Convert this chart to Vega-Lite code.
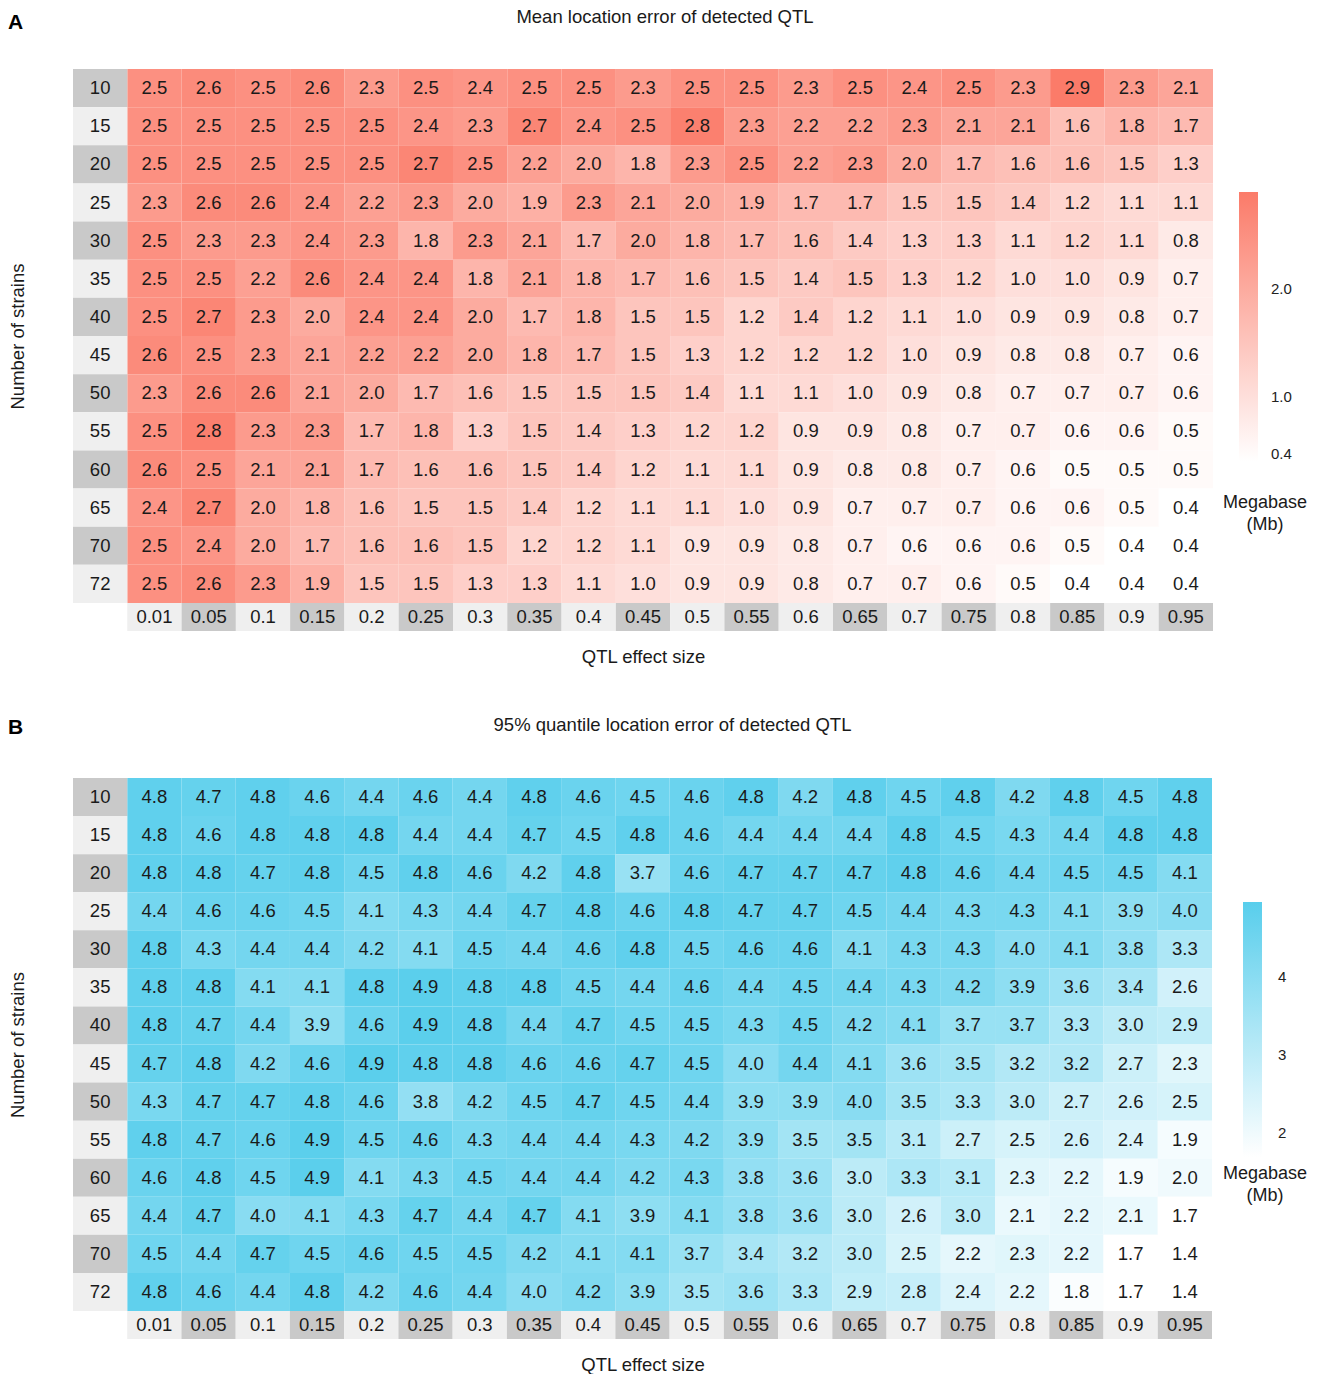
{
  "$schema": "https://vega.github.io/schema/vega-lite/v6.json",
  "padding": {"left": 8, "top": 7, "right": 2, "bottom": 0},
  "background": "white",
  "config": {
    "view": {"stroke": null},
    "font": "Liberation Sans",
    "axis": {"titleFont": "Liberation Sans", "titleFontWeight": "normal", "titleColor": "#1a1a1a", "titleFontSize": 18.5},
    "title": {"font": "Liberation Sans", "color": "#1a1a1a"},
    "legend": {"labelFont": "Liberation Sans", "titleFont": "Liberation Sans", "labelColor": "#222", "titleColor": "#1a1a1a"}
  },
  "datasets": {
    "a": [
      {"n":10,"e":"0.01","v":2.5},{"n":10,"e":"0.05","v":2.6},{"n":10,"e":"0.1","v":2.5},{"n":10,"e":"0.15","v":2.6},{"n":10,"e":"0.2","v":2.3},{"n":10,"e":"0.25","v":2.5},{"n":10,"e":"0.3","v":2.4},{"n":10,"e":"0.35","v":2.5},{"n":10,"e":"0.4","v":2.5},{"n":10,"e":"0.45","v":2.3},{"n":10,"e":"0.5","v":2.5},{"n":10,"e":"0.55","v":2.5},{"n":10,"e":"0.6","v":2.3},{"n":10,"e":"0.65","v":2.5},{"n":10,"e":"0.7","v":2.4},{"n":10,"e":"0.75","v":2.5},{"n":10,"e":"0.8","v":2.3},{"n":10,"e":"0.85","v":2.9},{"n":10,"e":"0.9","v":2.3},{"n":10,"e":"0.95","v":2.1},
      {"n":15,"e":"0.01","v":2.5},{"n":15,"e":"0.05","v":2.5},{"n":15,"e":"0.1","v":2.5},{"n":15,"e":"0.15","v":2.5},{"n":15,"e":"0.2","v":2.5},{"n":15,"e":"0.25","v":2.4},{"n":15,"e":"0.3","v":2.3},{"n":15,"e":"0.35","v":2.7},{"n":15,"e":"0.4","v":2.4},{"n":15,"e":"0.45","v":2.5},{"n":15,"e":"0.5","v":2.8},{"n":15,"e":"0.55","v":2.3},{"n":15,"e":"0.6","v":2.2},{"n":15,"e":"0.65","v":2.2},{"n":15,"e":"0.7","v":2.3},{"n":15,"e":"0.75","v":2.1},{"n":15,"e":"0.8","v":2.1},{"n":15,"e":"0.85","v":1.6},{"n":15,"e":"0.9","v":1.8},{"n":15,"e":"0.95","v":1.7},
      {"n":20,"e":"0.01","v":2.5},{"n":20,"e":"0.05","v":2.5},{"n":20,"e":"0.1","v":2.5},{"n":20,"e":"0.15","v":2.5},{"n":20,"e":"0.2","v":2.5},{"n":20,"e":"0.25","v":2.7},{"n":20,"e":"0.3","v":2.5},{"n":20,"e":"0.35","v":2.2},{"n":20,"e":"0.4","v":2.0},{"n":20,"e":"0.45","v":1.8},{"n":20,"e":"0.5","v":2.3},{"n":20,"e":"0.55","v":2.5},{"n":20,"e":"0.6","v":2.2},{"n":20,"e":"0.65","v":2.3},{"n":20,"e":"0.7","v":2.0},{"n":20,"e":"0.75","v":1.7},{"n":20,"e":"0.8","v":1.6},{"n":20,"e":"0.85","v":1.6},{"n":20,"e":"0.9","v":1.5},{"n":20,"e":"0.95","v":1.3},
      {"n":25,"e":"0.01","v":2.3},{"n":25,"e":"0.05","v":2.6},{"n":25,"e":"0.1","v":2.6},{"n":25,"e":"0.15","v":2.4},{"n":25,"e":"0.2","v":2.2},{"n":25,"e":"0.25","v":2.3},{"n":25,"e":"0.3","v":2.0},{"n":25,"e":"0.35","v":1.9},{"n":25,"e":"0.4","v":2.3},{"n":25,"e":"0.45","v":2.1},{"n":25,"e":"0.5","v":2.0},{"n":25,"e":"0.55","v":1.9},{"n":25,"e":"0.6","v":1.7},{"n":25,"e":"0.65","v":1.7},{"n":25,"e":"0.7","v":1.5},{"n":25,"e":"0.75","v":1.5},{"n":25,"e":"0.8","v":1.4},{"n":25,"e":"0.85","v":1.2},{"n":25,"e":"0.9","v":1.1},{"n":25,"e":"0.95","v":1.1},
      {"n":30,"e":"0.01","v":2.5},{"n":30,"e":"0.05","v":2.3},{"n":30,"e":"0.1","v":2.3},{"n":30,"e":"0.15","v":2.4},{"n":30,"e":"0.2","v":2.3},{"n":30,"e":"0.25","v":1.8},{"n":30,"e":"0.3","v":2.3},{"n":30,"e":"0.35","v":2.1},{"n":30,"e":"0.4","v":1.7},{"n":30,"e":"0.45","v":2.0},{"n":30,"e":"0.5","v":1.8},{"n":30,"e":"0.55","v":1.7},{"n":30,"e":"0.6","v":1.6},{"n":30,"e":"0.65","v":1.4},{"n":30,"e":"0.7","v":1.3},{"n":30,"e":"0.75","v":1.3},{"n":30,"e":"0.8","v":1.1},{"n":30,"e":"0.85","v":1.2},{"n":30,"e":"0.9","v":1.1},{"n":30,"e":"0.95","v":0.8},
      {"n":35,"e":"0.01","v":2.5},{"n":35,"e":"0.05","v":2.5},{"n":35,"e":"0.1","v":2.2},{"n":35,"e":"0.15","v":2.6},{"n":35,"e":"0.2","v":2.4},{"n":35,"e":"0.25","v":2.4},{"n":35,"e":"0.3","v":1.8},{"n":35,"e":"0.35","v":2.1},{"n":35,"e":"0.4","v":1.8},{"n":35,"e":"0.45","v":1.7},{"n":35,"e":"0.5","v":1.6},{"n":35,"e":"0.55","v":1.5},{"n":35,"e":"0.6","v":1.4},{"n":35,"e":"0.65","v":1.5},{"n":35,"e":"0.7","v":1.3},{"n":35,"e":"0.75","v":1.2},{"n":35,"e":"0.8","v":1.0},{"n":35,"e":"0.85","v":1.0},{"n":35,"e":"0.9","v":0.9},{"n":35,"e":"0.95","v":0.7},
      {"n":40,"e":"0.01","v":2.5},{"n":40,"e":"0.05","v":2.7},{"n":40,"e":"0.1","v":2.3},{"n":40,"e":"0.15","v":2.0},{"n":40,"e":"0.2","v":2.4},{"n":40,"e":"0.25","v":2.4},{"n":40,"e":"0.3","v":2.0},{"n":40,"e":"0.35","v":1.7},{"n":40,"e":"0.4","v":1.8},{"n":40,"e":"0.45","v":1.5},{"n":40,"e":"0.5","v":1.5},{"n":40,"e":"0.55","v":1.2},{"n":40,"e":"0.6","v":1.4},{"n":40,"e":"0.65","v":1.2},{"n":40,"e":"0.7","v":1.1},{"n":40,"e":"0.75","v":1.0},{"n":40,"e":"0.8","v":0.9},{"n":40,"e":"0.85","v":0.9},{"n":40,"e":"0.9","v":0.8},{"n":40,"e":"0.95","v":0.7},
      {"n":45,"e":"0.01","v":2.6},{"n":45,"e":"0.05","v":2.5},{"n":45,"e":"0.1","v":2.3},{"n":45,"e":"0.15","v":2.1},{"n":45,"e":"0.2","v":2.2},{"n":45,"e":"0.25","v":2.2},{"n":45,"e":"0.3","v":2.0},{"n":45,"e":"0.35","v":1.8},{"n":45,"e":"0.4","v":1.7},{"n":45,"e":"0.45","v":1.5},{"n":45,"e":"0.5","v":1.3},{"n":45,"e":"0.55","v":1.2},{"n":45,"e":"0.6","v":1.2},{"n":45,"e":"0.65","v":1.2},{"n":45,"e":"0.7","v":1.0},{"n":45,"e":"0.75","v":0.9},{"n":45,"e":"0.8","v":0.8},{"n":45,"e":"0.85","v":0.8},{"n":45,"e":"0.9","v":0.7},{"n":45,"e":"0.95","v":0.6},
      {"n":50,"e":"0.01","v":2.3},{"n":50,"e":"0.05","v":2.6},{"n":50,"e":"0.1","v":2.6},{"n":50,"e":"0.15","v":2.1},{"n":50,"e":"0.2","v":2.0},{"n":50,"e":"0.25","v":1.7},{"n":50,"e":"0.3","v":1.6},{"n":50,"e":"0.35","v":1.5},{"n":50,"e":"0.4","v":1.5},{"n":50,"e":"0.45","v":1.5},{"n":50,"e":"0.5","v":1.4},{"n":50,"e":"0.55","v":1.1},{"n":50,"e":"0.6","v":1.1},{"n":50,"e":"0.65","v":1.0},{"n":50,"e":"0.7","v":0.9},{"n":50,"e":"0.75","v":0.8},{"n":50,"e":"0.8","v":0.7},{"n":50,"e":"0.85","v":0.7},{"n":50,"e":"0.9","v":0.7},{"n":50,"e":"0.95","v":0.6},
      {"n":55,"e":"0.01","v":2.5},{"n":55,"e":"0.05","v":2.8},{"n":55,"e":"0.1","v":2.3},{"n":55,"e":"0.15","v":2.3},{"n":55,"e":"0.2","v":1.7},{"n":55,"e":"0.25","v":1.8},{"n":55,"e":"0.3","v":1.3},{"n":55,"e":"0.35","v":1.5},{"n":55,"e":"0.4","v":1.4},{"n":55,"e":"0.45","v":1.3},{"n":55,"e":"0.5","v":1.2},{"n":55,"e":"0.55","v":1.2},{"n":55,"e":"0.6","v":0.9},{"n":55,"e":"0.65","v":0.9},{"n":55,"e":"0.7","v":0.8},{"n":55,"e":"0.75","v":0.7},{"n":55,"e":"0.8","v":0.7},{"n":55,"e":"0.85","v":0.6},{"n":55,"e":"0.9","v":0.6},{"n":55,"e":"0.95","v":0.5},
      {"n":60,"e":"0.01","v":2.6},{"n":60,"e":"0.05","v":2.5},{"n":60,"e":"0.1","v":2.1},{"n":60,"e":"0.15","v":2.1},{"n":60,"e":"0.2","v":1.7},{"n":60,"e":"0.25","v":1.6},{"n":60,"e":"0.3","v":1.6},{"n":60,"e":"0.35","v":1.5},{"n":60,"e":"0.4","v":1.4},{"n":60,"e":"0.45","v":1.2},{"n":60,"e":"0.5","v":1.1},{"n":60,"e":"0.55","v":1.1},{"n":60,"e":"0.6","v":0.9},{"n":60,"e":"0.65","v":0.8},{"n":60,"e":"0.7","v":0.8},{"n":60,"e":"0.75","v":0.7},{"n":60,"e":"0.8","v":0.6},{"n":60,"e":"0.85","v":0.5},{"n":60,"e":"0.9","v":0.5},{"n":60,"e":"0.95","v":0.5},
      {"n":65,"e":"0.01","v":2.4},{"n":65,"e":"0.05","v":2.7},{"n":65,"e":"0.1","v":2.0},{"n":65,"e":"0.15","v":1.8},{"n":65,"e":"0.2","v":1.6},{"n":65,"e":"0.25","v":1.5},{"n":65,"e":"0.3","v":1.5},{"n":65,"e":"0.35","v":1.4},{"n":65,"e":"0.4","v":1.2},{"n":65,"e":"0.45","v":1.1},{"n":65,"e":"0.5","v":1.1},{"n":65,"e":"0.55","v":1.0},{"n":65,"e":"0.6","v":0.9},{"n":65,"e":"0.65","v":0.7},{"n":65,"e":"0.7","v":0.7},{"n":65,"e":"0.75","v":0.7},{"n":65,"e":"0.8","v":0.6},{"n":65,"e":"0.85","v":0.6},{"n":65,"e":"0.9","v":0.5},{"n":65,"e":"0.95","v":0.4},
      {"n":70,"e":"0.01","v":2.5},{"n":70,"e":"0.05","v":2.4},{"n":70,"e":"0.1","v":2.0},{"n":70,"e":"0.15","v":1.7},{"n":70,"e":"0.2","v":1.6},{"n":70,"e":"0.25","v":1.6},{"n":70,"e":"0.3","v":1.5},{"n":70,"e":"0.35","v":1.2},{"n":70,"e":"0.4","v":1.2},{"n":70,"e":"0.45","v":1.1},{"n":70,"e":"0.5","v":0.9},{"n":70,"e":"0.55","v":0.9},{"n":70,"e":"0.6","v":0.8},{"n":70,"e":"0.65","v":0.7},{"n":70,"e":"0.7","v":0.6},{"n":70,"e":"0.75","v":0.6},{"n":70,"e":"0.8","v":0.6},{"n":70,"e":"0.85","v":0.5},{"n":70,"e":"0.9","v":0.4},{"n":70,"e":"0.95","v":0.4},
      {"n":72,"e":"0.01","v":2.5},{"n":72,"e":"0.05","v":2.6},{"n":72,"e":"0.1","v":2.3},{"n":72,"e":"0.15","v":1.9},{"n":72,"e":"0.2","v":1.5},{"n":72,"e":"0.25","v":1.5},{"n":72,"e":"0.3","v":1.3},{"n":72,"e":"0.35","v":1.3},{"n":72,"e":"0.4","v":1.1},{"n":72,"e":"0.45","v":1.0},{"n":72,"e":"0.5","v":0.9},{"n":72,"e":"0.55","v":0.9},{"n":72,"e":"0.6","v":0.8},{"n":72,"e":"0.65","v":0.7},{"n":72,"e":"0.7","v":0.7},{"n":72,"e":"0.75","v":0.6},{"n":72,"e":"0.8","v":0.5},{"n":72,"e":"0.85","v":0.4},{"n":72,"e":"0.9","v":0.4},{"n":72,"e":"0.95","v":0.4}
    ],
    "b": [
      {"n":10,"e":"0.01","v":4.8},{"n":10,"e":"0.05","v":4.7},{"n":10,"e":"0.1","v":4.8},{"n":10,"e":"0.15","v":4.6},{"n":10,"e":"0.2","v":4.4},{"n":10,"e":"0.25","v":4.6},{"n":10,"e":"0.3","v":4.4},{"n":10,"e":"0.35","v":4.8},{"n":10,"e":"0.4","v":4.6},{"n":10,"e":"0.45","v":4.5},{"n":10,"e":"0.5","v":4.6},{"n":10,"e":"0.55","v":4.8},{"n":10,"e":"0.6","v":4.2},{"n":10,"e":"0.65","v":4.8},{"n":10,"e":"0.7","v":4.5},{"n":10,"e":"0.75","v":4.8},{"n":10,"e":"0.8","v":4.2},{"n":10,"e":"0.85","v":4.8},{"n":10,"e":"0.9","v":4.5},{"n":10,"e":"0.95","v":4.8},
      {"n":15,"e":"0.01","v":4.8},{"n":15,"e":"0.05","v":4.6},{"n":15,"e":"0.1","v":4.8},{"n":15,"e":"0.15","v":4.8},{"n":15,"e":"0.2","v":4.8},{"n":15,"e":"0.25","v":4.4},{"n":15,"e":"0.3","v":4.4},{"n":15,"e":"0.35","v":4.7},{"n":15,"e":"0.4","v":4.5},{"n":15,"e":"0.45","v":4.8},{"n":15,"e":"0.5","v":4.6},{"n":15,"e":"0.55","v":4.4},{"n":15,"e":"0.6","v":4.4},{"n":15,"e":"0.65","v":4.4},{"n":15,"e":"0.7","v":4.8},{"n":15,"e":"0.75","v":4.5},{"n":15,"e":"0.8","v":4.3},{"n":15,"e":"0.85","v":4.4},{"n":15,"e":"0.9","v":4.8},{"n":15,"e":"0.95","v":4.8},
      {"n":20,"e":"0.01","v":4.8},{"n":20,"e":"0.05","v":4.8},{"n":20,"e":"0.1","v":4.7},{"n":20,"e":"0.15","v":4.8},{"n":20,"e":"0.2","v":4.5},{"n":20,"e":"0.25","v":4.8},{"n":20,"e":"0.3","v":4.6},{"n":20,"e":"0.35","v":4.2},{"n":20,"e":"0.4","v":4.8},{"n":20,"e":"0.45","v":3.7},{"n":20,"e":"0.5","v":4.6},{"n":20,"e":"0.55","v":4.7},{"n":20,"e":"0.6","v":4.7},{"n":20,"e":"0.65","v":4.7},{"n":20,"e":"0.7","v":4.8},{"n":20,"e":"0.75","v":4.6},{"n":20,"e":"0.8","v":4.4},{"n":20,"e":"0.85","v":4.5},{"n":20,"e":"0.9","v":4.5},{"n":20,"e":"0.95","v":4.1},
      {"n":25,"e":"0.01","v":4.4},{"n":25,"e":"0.05","v":4.6},{"n":25,"e":"0.1","v":4.6},{"n":25,"e":"0.15","v":4.5},{"n":25,"e":"0.2","v":4.1},{"n":25,"e":"0.25","v":4.3},{"n":25,"e":"0.3","v":4.4},{"n":25,"e":"0.35","v":4.7},{"n":25,"e":"0.4","v":4.8},{"n":25,"e":"0.45","v":4.6},{"n":25,"e":"0.5","v":4.8},{"n":25,"e":"0.55","v":4.7},{"n":25,"e":"0.6","v":4.7},{"n":25,"e":"0.65","v":4.5},{"n":25,"e":"0.7","v":4.4},{"n":25,"e":"0.75","v":4.3},{"n":25,"e":"0.8","v":4.3},{"n":25,"e":"0.85","v":4.1},{"n":25,"e":"0.9","v":3.9},{"n":25,"e":"0.95","v":4.0},
      {"n":30,"e":"0.01","v":4.8},{"n":30,"e":"0.05","v":4.3},{"n":30,"e":"0.1","v":4.4},{"n":30,"e":"0.15","v":4.4},{"n":30,"e":"0.2","v":4.2},{"n":30,"e":"0.25","v":4.1},{"n":30,"e":"0.3","v":4.5},{"n":30,"e":"0.35","v":4.4},{"n":30,"e":"0.4","v":4.6},{"n":30,"e":"0.45","v":4.8},{"n":30,"e":"0.5","v":4.5},{"n":30,"e":"0.55","v":4.6},{"n":30,"e":"0.6","v":4.6},{"n":30,"e":"0.65","v":4.1},{"n":30,"e":"0.7","v":4.3},{"n":30,"e":"0.75","v":4.3},{"n":30,"e":"0.8","v":4.0},{"n":30,"e":"0.85","v":4.1},{"n":30,"e":"0.9","v":3.8},{"n":30,"e":"0.95","v":3.3},
      {"n":35,"e":"0.01","v":4.8},{"n":35,"e":"0.05","v":4.8},{"n":35,"e":"0.1","v":4.1},{"n":35,"e":"0.15","v":4.1},{"n":35,"e":"0.2","v":4.8},{"n":35,"e":"0.25","v":4.9},{"n":35,"e":"0.3","v":4.8},{"n":35,"e":"0.35","v":4.8},{"n":35,"e":"0.4","v":4.5},{"n":35,"e":"0.45","v":4.4},{"n":35,"e":"0.5","v":4.6},{"n":35,"e":"0.55","v":4.4},{"n":35,"e":"0.6","v":4.5},{"n":35,"e":"0.65","v":4.4},{"n":35,"e":"0.7","v":4.3},{"n":35,"e":"0.75","v":4.2},{"n":35,"e":"0.8","v":3.9},{"n":35,"e":"0.85","v":3.6},{"n":35,"e":"0.9","v":3.4},{"n":35,"e":"0.95","v":2.6},
      {"n":40,"e":"0.01","v":4.8},{"n":40,"e":"0.05","v":4.7},{"n":40,"e":"0.1","v":4.4},{"n":40,"e":"0.15","v":3.9},{"n":40,"e":"0.2","v":4.6},{"n":40,"e":"0.25","v":4.9},{"n":40,"e":"0.3","v":4.8},{"n":40,"e":"0.35","v":4.4},{"n":40,"e":"0.4","v":4.7},{"n":40,"e":"0.45","v":4.5},{"n":40,"e":"0.5","v":4.5},{"n":40,"e":"0.55","v":4.3},{"n":40,"e":"0.6","v":4.5},{"n":40,"e":"0.65","v":4.2},{"n":40,"e":"0.7","v":4.1},{"n":40,"e":"0.75","v":3.7},{"n":40,"e":"0.8","v":3.7},{"n":40,"e":"0.85","v":3.3},{"n":40,"e":"0.9","v":3.0},{"n":40,"e":"0.95","v":2.9},
      {"n":45,"e":"0.01","v":4.7},{"n":45,"e":"0.05","v":4.8},{"n":45,"e":"0.1","v":4.2},{"n":45,"e":"0.15","v":4.6},{"n":45,"e":"0.2","v":4.9},{"n":45,"e":"0.25","v":4.8},{"n":45,"e":"0.3","v":4.8},{"n":45,"e":"0.35","v":4.6},{"n":45,"e":"0.4","v":4.6},{"n":45,"e":"0.45","v":4.7},{"n":45,"e":"0.5","v":4.5},{"n":45,"e":"0.55","v":4.0},{"n":45,"e":"0.6","v":4.4},{"n":45,"e":"0.65","v":4.1},{"n":45,"e":"0.7","v":3.6},{"n":45,"e":"0.75","v":3.5},{"n":45,"e":"0.8","v":3.2},{"n":45,"e":"0.85","v":3.2},{"n":45,"e":"0.9","v":2.7},{"n":45,"e":"0.95","v":2.3},
      {"n":50,"e":"0.01","v":4.3},{"n":50,"e":"0.05","v":4.7},{"n":50,"e":"0.1","v":4.7},{"n":50,"e":"0.15","v":4.8},{"n":50,"e":"0.2","v":4.6},{"n":50,"e":"0.25","v":3.8},{"n":50,"e":"0.3","v":4.2},{"n":50,"e":"0.35","v":4.5},{"n":50,"e":"0.4","v":4.7},{"n":50,"e":"0.45","v":4.5},{"n":50,"e":"0.5","v":4.4},{"n":50,"e":"0.55","v":3.9},{"n":50,"e":"0.6","v":3.9},{"n":50,"e":"0.65","v":4.0},{"n":50,"e":"0.7","v":3.5},{"n":50,"e":"0.75","v":3.3},{"n":50,"e":"0.8","v":3.0},{"n":50,"e":"0.85","v":2.7},{"n":50,"e":"0.9","v":2.6},{"n":50,"e":"0.95","v":2.5},
      {"n":55,"e":"0.01","v":4.8},{"n":55,"e":"0.05","v":4.7},{"n":55,"e":"0.1","v":4.6},{"n":55,"e":"0.15","v":4.9},{"n":55,"e":"0.2","v":4.5},{"n":55,"e":"0.25","v":4.6},{"n":55,"e":"0.3","v":4.3},{"n":55,"e":"0.35","v":4.4},{"n":55,"e":"0.4","v":4.4},{"n":55,"e":"0.45","v":4.3},{"n":55,"e":"0.5","v":4.2},{"n":55,"e":"0.55","v":3.9},{"n":55,"e":"0.6","v":3.5},{"n":55,"e":"0.65","v":3.5},{"n":55,"e":"0.7","v":3.1},{"n":55,"e":"0.75","v":2.7},{"n":55,"e":"0.8","v":2.5},{"n":55,"e":"0.85","v":2.6},{"n":55,"e":"0.9","v":2.4},{"n":55,"e":"0.95","v":1.9},
      {"n":60,"e":"0.01","v":4.6},{"n":60,"e":"0.05","v":4.8},{"n":60,"e":"0.1","v":4.5},{"n":60,"e":"0.15","v":4.9},{"n":60,"e":"0.2","v":4.1},{"n":60,"e":"0.25","v":4.3},{"n":60,"e":"0.3","v":4.5},{"n":60,"e":"0.35","v":4.4},{"n":60,"e":"0.4","v":4.4},{"n":60,"e":"0.45","v":4.2},{"n":60,"e":"0.5","v":4.3},{"n":60,"e":"0.55","v":3.8},{"n":60,"e":"0.6","v":3.6},{"n":60,"e":"0.65","v":3.0},{"n":60,"e":"0.7","v":3.3},{"n":60,"e":"0.75","v":3.1},{"n":60,"e":"0.8","v":2.3},{"n":60,"e":"0.85","v":2.2},{"n":60,"e":"0.9","v":1.9},{"n":60,"e":"0.95","v":2.0},
      {"n":65,"e":"0.01","v":4.4},{"n":65,"e":"0.05","v":4.7},{"n":65,"e":"0.1","v":4.0},{"n":65,"e":"0.15","v":4.1},{"n":65,"e":"0.2","v":4.3},{"n":65,"e":"0.25","v":4.7},{"n":65,"e":"0.3","v":4.4},{"n":65,"e":"0.35","v":4.7},{"n":65,"e":"0.4","v":4.1},{"n":65,"e":"0.45","v":3.9},{"n":65,"e":"0.5","v":4.1},{"n":65,"e":"0.55","v":3.8},{"n":65,"e":"0.6","v":3.6},{"n":65,"e":"0.65","v":3.0},{"n":65,"e":"0.7","v":2.6},{"n":65,"e":"0.75","v":3.0},{"n":65,"e":"0.8","v":2.1},{"n":65,"e":"0.85","v":2.2},{"n":65,"e":"0.9","v":2.1},{"n":65,"e":"0.95","v":1.7},
      {"n":70,"e":"0.01","v":4.5},{"n":70,"e":"0.05","v":4.4},{"n":70,"e":"0.1","v":4.7},{"n":70,"e":"0.15","v":4.5},{"n":70,"e":"0.2","v":4.6},{"n":70,"e":"0.25","v":4.5},{"n":70,"e":"0.3","v":4.5},{"n":70,"e":"0.35","v":4.2},{"n":70,"e":"0.4","v":4.1},{"n":70,"e":"0.45","v":4.1},{"n":70,"e":"0.5","v":3.7},{"n":70,"e":"0.55","v":3.4},{"n":70,"e":"0.6","v":3.2},{"n":70,"e":"0.65","v":3.0},{"n":70,"e":"0.7","v":2.5},{"n":70,"e":"0.75","v":2.2},{"n":70,"e":"0.8","v":2.3},{"n":70,"e":"0.85","v":2.2},{"n":70,"e":"0.9","v":1.7},{"n":70,"e":"0.95","v":1.4},
      {"n":72,"e":"0.01","v":4.8},{"n":72,"e":"0.05","v":4.6},{"n":72,"e":"0.1","v":4.4},{"n":72,"e":"0.15","v":4.8},{"n":72,"e":"0.2","v":4.2},{"n":72,"e":"0.25","v":4.6},{"n":72,"e":"0.3","v":4.4},{"n":72,"e":"0.35","v":4.0},{"n":72,"e":"0.4","v":4.2},{"n":72,"e":"0.45","v":3.9},{"n":72,"e":"0.5","v":3.5},{"n":72,"e":"0.55","v":3.6},{"n":72,"e":"0.6","v":3.3},{"n":72,"e":"0.65","v":2.9},{"n":72,"e":"0.7","v":2.8},{"n":72,"e":"0.75","v":2.4},{"n":72,"e":"0.8","v":2.2},{"n":72,"e":"0.85","v":1.8},{"n":72,"e":"0.9","v":1.7},{"n":72,"e":"0.95","v":1.4}
    ]
  },
  "concat": [
    {
      "title": {"text": "A", "anchor": "start", "frame": "bounds", "fontSize": 21, "fontWeight": "bold", "offset": -25, "color": "#000"},
      "spacing": 0,
      "resolve": {"scale": {"fill": "independent"}},
      "vconcat": [
        {
          "width": 1140, "height": 534,
          "title": {"text": "Mean location error of detected QTL", "fontSize": 18.5, "fontWeight": "normal", "offset": 43, "anchor": "middle", "frame": "group", "dx": 22},
          "data": {"name": "a"},
          "encoding": {
            "x": {"field": "e", "type": "nominal", "scale": {"domain": ["lab","0.01","0.05","0.1","0.15","0.2","0.25","0.3","0.35","0.4","0.45","0.5","0.55","0.6","0.65","0.7","0.75","0.8","0.85","0.9","0.95"], "paddingInner": 0, "paddingOuter": 0}, "axis": null},
            "y": {"field": "n", "type": "ordinal", "scale": {"domain": [10,15,20,25,30,35,40,45,50,55,60,65,70,72], "paddingInner": 0, "paddingOuter": 0}, "axis": {"title": "Number of strains", "labels": false, "ticks": false, "domain": false, "titlePadding": 46}}
          },
          "layer": [
            {
              "mark": {"type": "rect", "strokeWidth": 0},
              "encoding": {
                "color": {"field": "v", "type": "quantitative", "scale": {"domain": [0.4, 2.9], "range": ["#ffffff", "#fb7b69"], "interpolate": "rgb", "clamp": true},
                  "legend": {"orient": "none", "legendX": 1150, "legendY": 123, "direction": "vertical", "title": ["Megabase", "(Mb)"], "titleOrient": "bottom", "titleAnchor": "middle", "titleAlign": "center", "titleFontSize": 18, "titleFontWeight": "normal", "titlePadding": 32, "titleLineHeight": 22, "gradientLength": 270, "gradientThickness": 19, "gradientStrokeWidth": 0, "values": [0.4, 1, 2], "format": ".1f", "labelFontSize": 15, "labelOffset": 13}}
              }
            },
            {
              "mark": {"type": "text", "fontSize": 18.5, "color": "#1a1a1a"},
              "encoding": {"text": {"field": "v", "type": "quantitative", "format": ".1f"}}
            },
            {
              "transform": [{"aggregate": [{"op": "count", "as": "c"}], "groupby": ["n"]}],
              "mark": {"type": "rect", "strokeWidth": 0},
              "encoding": {
                "x": {"datum": "lab", "type": "nominal"},
                "fill": {"field": "n", "type": "ordinal", "scale": {"domain": [10,15,20,25,30,35,40,45,50,55,60,65,70,72], "range": ["#c9c9c9","#efefef","#c9c9c9","#efefef","#c9c9c9","#efefef","#c9c9c9","#efefef","#c9c9c9","#efefef","#c9c9c9","#efefef","#c9c9c9","#efefef"]}, "legend": null}
              }
            },
            {
              "transform": [{"aggregate": [{"op": "count", "as": "c"}], "groupby": ["n"]}],
              "mark": {"type": "text", "fontSize": 18.5, "color": "#1a1a1a"},
              "encoding": {
                "x": {"datum": "lab", "type": "nominal"},
                "text": {"field": "n", "type": "ordinal"}
              }
            }
          ]
        },
        {
          "width": 1140, "height": 28,
          "data": {"name": "a"},
          "transform": [{"aggregate": [{"op": "count", "as": "c"}], "groupby": ["e"]}],
          "encoding": {
            "x": {"field": "e", "type": "nominal", "scale": {"domain": ["lab","0.01","0.05","0.1","0.15","0.2","0.25","0.3","0.35","0.4","0.45","0.5","0.55","0.6","0.65","0.7","0.75","0.8","0.85","0.9","0.95"], "paddingInner": 0, "paddingOuter": 0}, "axis": {"title": "QTL effect size", "labels": false, "ticks": false, "domain": false, "titlePadding": 16}}
          },
          "layer": [
            {
              "mark": {"type": "rect", "strokeWidth": 0},
              "encoding": {
                "fill": {"field": "e", "type": "nominal", "scale": {"domain": ["0.01","0.05","0.1","0.15","0.2","0.25","0.3","0.35","0.4","0.45","0.5","0.55","0.6","0.65","0.7","0.75","0.8","0.85","0.9","0.95"], "range": ["#efefef","#c9c9c9","#efefef","#c9c9c9","#efefef","#c9c9c9","#efefef","#c9c9c9","#efefef","#c9c9c9","#efefef","#c9c9c9","#efefef","#c9c9c9","#efefef","#c9c9c9","#efefef","#c9c9c9","#efefef","#c9c9c9"]}, "legend": null}
              }
            },
            {
              "mark": {"type": "text", "fontSize": 18.5, "color": "#1a1a1a"},
              "encoding": {"text": {"field": "e", "type": "nominal"}}
            }
          ]
        }
      ]
    },
    {
      "title": {"text": "B", "anchor": "start", "frame": "bounds", "fontSize": 21, "fontWeight": "bold", "offset": -22, "color": "#000"},
      "spacing": 0,
      "resolve": {"scale": {"fill": "independent"}},
      "vconcat": [
        {
          "width": 1139, "height": 533,
          "title": {"text": "95% quantile location error of detected QTL", "fontSize": 18.5, "fontWeight": "normal", "offset": 44, "anchor": "middle", "frame": "group", "dx": 30},
          "data": {"name": "b"},
          "encoding": {
            "x": {"field": "e", "type": "nominal", "scale": {"domain": ["lab","0.01","0.05","0.1","0.15","0.2","0.25","0.3","0.35","0.4","0.45","0.5","0.55","0.6","0.65","0.7","0.75","0.8","0.85","0.9","0.95"], "paddingInner": 0, "paddingOuter": 0}, "axis": null},
            "y": {"field": "n", "type": "ordinal", "scale": {"domain": [10,15,20,25,30,35,40,45,50,55,60,65,70,72], "paddingInner": 0, "paddingOuter": 0}, "axis": {"title": "Number of strains", "labels": false, "ticks": false, "domain": false, "titlePadding": 46}}
          },
          "layer": [
            {
              "mark": {"type": "rect", "strokeWidth": 0},
              "encoding": {
                "color": {"field": "v", "type": "quantitative", "scale": {"domain": [1.7, 4.95], "range": ["#ffffff", "#58ceec"], "interpolate": "rgb", "clamp": true},
                  "legend": {"orient": "none", "legendX": 1150, "legendY": 124, "direction": "vertical", "title": ["Megabase", "(Mb)"], "titleOrient": "bottom", "titleAnchor": "middle", "titleAlign": "center", "titleFontSize": 18, "titleFontWeight": "normal", "titlePadding": 8, "titleLineHeight": 22, "gradientLength": 255, "gradientThickness": 19, "gradientStrokeWidth": 0, "values": [2, 3, 4], "format": "d", "labelFontSize": 15, "labelOffset": 16}}
              }
            },
            {
              "mark": {"type": "text", "fontSize": 18.5, "color": "#1a1a1a"},
              "encoding": {"text": {"field": "v", "type": "quantitative", "format": ".1f"}}
            },
            {
              "transform": [{"aggregate": [{"op": "count", "as": "c"}], "groupby": ["n"]}],
              "mark": {"type": "rect", "strokeWidth": 0},
              "encoding": {
                "x": {"datum": "lab", "type": "nominal"},
                "fill": {"field": "n", "type": "ordinal", "scale": {"domain": [10,15,20,25,30,35,40,45,50,55,60,65,70,72], "range": ["#c9c9c9","#efefef","#c9c9c9","#efefef","#c9c9c9","#efefef","#c9c9c9","#efefef","#c9c9c9","#efefef","#c9c9c9","#efefef","#c9c9c9","#efefef"]}, "legend": null}
              }
            },
            {
              "transform": [{"aggregate": [{"op": "count", "as": "c"}], "groupby": ["n"]}],
              "mark": {"type": "text", "fontSize": 18.5, "color": "#1a1a1a"},
              "encoding": {
                "x": {"datum": "lab", "type": "nominal"},
                "text": {"field": "n", "type": "ordinal"}
              }
            }
          ]
        },
        {
          "width": 1139, "height": 28,
          "data": {"name": "b"},
          "transform": [{"aggregate": [{"op": "count", "as": "c"}], "groupby": ["e"]}],
          "encoding": {
            "x": {"field": "e", "type": "nominal", "scale": {"domain": ["lab","0.01","0.05","0.1","0.15","0.2","0.25","0.3","0.35","0.4","0.45","0.5","0.55","0.6","0.65","0.7","0.75","0.8","0.85","0.9","0.95"], "paddingInner": 0, "paddingOuter": 0}, "axis": {"title": "QTL effect size", "labels": false, "ticks": false, "domain": false, "titlePadding": 16}}
          },
          "layer": [
            {
              "mark": {"type": "rect", "strokeWidth": 0},
              "encoding": {
                "fill": {"field": "e", "type": "nominal", "scale": {"domain": ["0.01","0.05","0.1","0.15","0.2","0.25","0.3","0.35","0.4","0.45","0.5","0.55","0.6","0.65","0.7","0.75","0.8","0.85","0.9","0.95"], "range": ["#efefef","#c9c9c9","#efefef","#c9c9c9","#efefef","#c9c9c9","#efefef","#c9c9c9","#efefef","#c9c9c9","#efefef","#c9c9c9","#efefef","#c9c9c9","#efefef","#c9c9c9","#efefef","#c9c9c9","#efefef","#c9c9c9"]}, "legend": null}
              }
            },
            {
              "mark": {"type": "text", "fontSize": 18.5, "color": "#1a1a1a"},
              "encoding": {"text": {"field": "e", "type": "nominal"}}
            }
          ]
        }
      ]
    }
  ],
  "columns": 1,
  "align": "none",
  "spacing": 49,
  "resolve": {"scale": {"color": "independent", "fill": "independent", "x": "independent", "y": "independent"}}
}
